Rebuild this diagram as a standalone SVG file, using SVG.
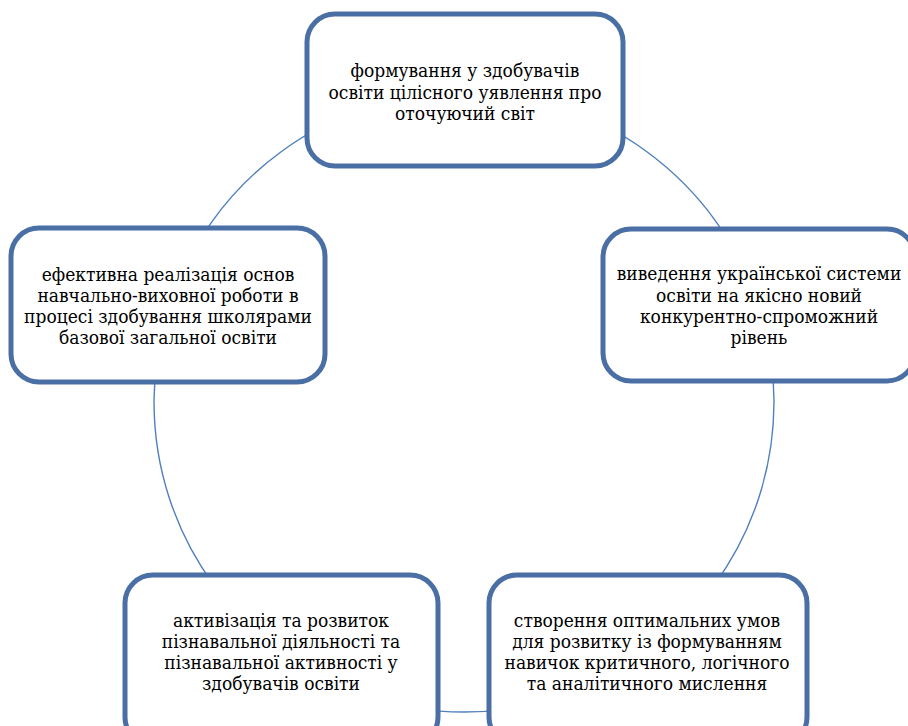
<svg xmlns="http://www.w3.org/2000/svg" width="908" height="726" viewBox="0 0 908 726">
<style>
.box{fill:#ffffff;stroke:#4a6fa5;stroke-width:5}
.arc{fill:none;stroke:#4f7fbf;stroke-width:1.4}
text{font-family:'DejaVu Serif Condensed','DejaVu Serif',serif;font-stretch:condensed;font-size:19px;fill:#000;text-anchor:middle}
</style>
<rect width="908" height="726" fill="#ffffff"/>
<g id="connectors">
<path class="arc" d="M464,92 A310,310 0 0 1 758.8,306.2"/>
<path class="arc" d="M758.8,306.2 A310,310 0 0 1 646.2,652.8"/>
<path class="arc" d="M646.2,652.8 A310,310 0 0 1 281.8,652.8"/>
<path class="arc" d="M281.8,652.8 A310,310 0 0 1 169.2,306.2"/>
<path class="arc" d="M169.2,306.2 A310,310 0 0 1 464,92"/>
</g>
<g id="node1">
<rect class="box" x="307" y="14" width="316" height="152" rx="28"/>
<text x="465" y="77">формування у здобувачів</text>
<text x="465" y="98.5">освіти цілісного уявлення про</text>
<text x="465" y="120">оточуючий світ</text>
</g>
<g id="node2">
<rect class="box" x="603" y="229" width="312" height="152" rx="28"/>
<text x="759" y="280">виведення української системи</text>
<text x="759" y="301.5">освіти на якісно новий</text>
<text x="759" y="323">конкурентно-спроможний</text>
<text x="759" y="344">рівень</text>
</g>
<g id="node3">
<rect class="box" x="489" y="575" width="318" height="170" rx="28"/>
<text x="647" y="627">створення оптимальних умов</text>
<text x="647" y="648">для розвитку із формуванням</text>
<text x="647" y="669">навичок критичного, логічного</text>
<text x="647" y="690">та аналітичного мислення</text>
</g>
<g id="node4">
<rect class="box" x="125" y="575" width="313" height="170" rx="28"/>
<text x="281" y="627">активізація та розвиток</text>
<text x="281" y="648">пізнавальної діяльності та</text>
<text x="281" y="669">пізнавальної активності у</text>
<text x="281" y="690">здобувачів освіти</text>
</g>
<g id="node5">
<rect class="box" x="11" y="228" width="314" height="154" rx="28"/>
<text x="168" y="281">ефективна реалізація основ</text>
<text x="168" y="302">навчально-виховної роботи в</text>
<text x="168" y="323">процесі здобування школярами</text>
<text x="168" y="344">базової загальної освіти</text>
</g>
</svg>
